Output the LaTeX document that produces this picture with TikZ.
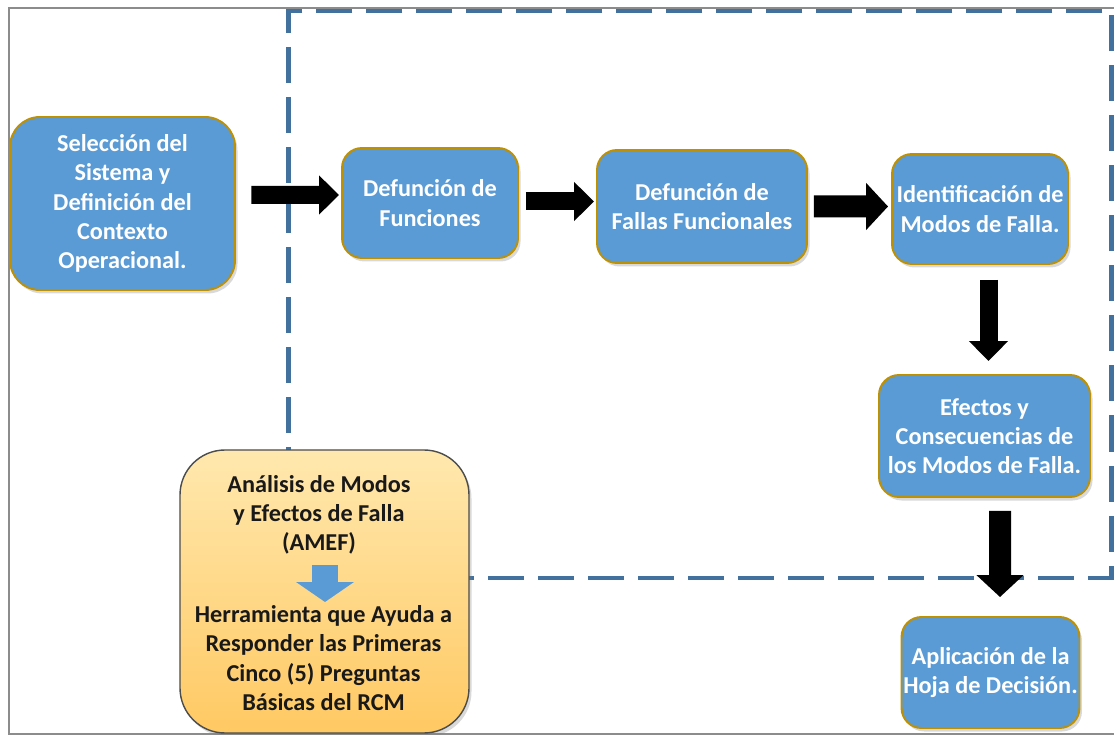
\documentclass[tikz,border=0pt]{standalone}
\usepackage{fontspec}
\setmainfont{Carlito}
\usetikzlibrary{shapes,arrows.meta,positioning,calc,shadows}

\definecolor{cajaazul}{HTML}{5B9BD5}
\definecolor{bordeoro}{HTML}{BF9000}
\definecolor{lineaazul}{HTML}{41719C}
\definecolor{naranjaarriba}{HTML}{FFE8AE}
\definecolor{naranjaabajo}{HTML}{FFC963}
\definecolor{marcogris}{HTML}{8C8C8C}

\tikzset{
  etapa/.style={rectangle, rounded corners=0.4cm, draw=bordeoro, line width=1.1pt,
    fill=cajaazul, text=white, align=center, inner sep=1pt,
    drop shadow={shadow xshift=0.05cm, shadow yshift=-0.07cm, opacity=0.3}},
  zona/.style={draw=lineaazul, line width=2.6pt, dash pattern=on 0.72cm off 0.28cm},
  resumen/.style={rectangle, rounded corners=0.9cm, draw=black!70, line width=0.8pt,
    top color=naranjaarriba, bottom color=naranjaabajo,
    drop shadow={shadow xshift=0.05cm, shadow yshift=-0.07cm, opacity=0.3}},
  texto/.style={align=center, text=black!90, inner sep=0pt},
  flecha/.style={line width=0.36cm, -{Triangle[length=0.4cm, width=0.76cm]}},
  flechag/.style={line width=0.44cm, -{Triangle[length=0.44cm, width=0.92cm]}},
  flechaazul/.style={draw=cajaazul, line width=0.52cm, -{Triangle[length=0.4cm, width=1.14cm]}},
}

\begin{document}
\begin{tikzpicture}[font=\fontsize{13.8pt}{16.6pt}\selectfont\bfseries]
    \useasboundingbox (0,0) rectangle (22.28,-14.7);

    % Marco
    \draw[marcogris, line width=0.6pt] (22.28,-0.16) -| (0.18,-14.68) -- (22.28,-14.68);

    % Zona punteada
    \node[zona, minimum width=16.47cm, minimum height=11.34cm] (zona) at (14.0,-5.89) {};

    % Etapas
    \node[etapa, rounded corners=0.6cm, minimum width=4.5cm, minimum height=3.46cm] (seleccion) at (2.45,-4.07)
        {Selección del\\ Sistema y\\ Definición del\\ Contexto\\ Operacional.};
    \node[etapa, minimum width=3.52cm, minimum height=2.2cm] (funciones) at (8.6,-4.06) {Defunción de\\ Funciones};
    \node[etapa, minimum width=4.2cm, minimum height=2.26cm] (fallas) at (14.04,-4.13) {Defunción de\\ Fallas Funcionales};
    \node[etapa, minimum width=3.52cm, minimum height=2.2cm] (modos) at (19.6,-4.18) {Identificación de\\ Modos de Falla.};
    \node[etapa, minimum width=4.22cm, minimum height=2.44cm] (efectos) at (19.69,-8.72)
        {Efectos y\\ Consecuencias de\\ los Modos de Falla.};
    \node[etapa, minimum width=3.5cm, minimum height=2.22cm] (hoja) at (19.81,-13.45) {Aplicación de la\\ Hoja de Decisión.};

    % AMEF
    \node[resumen, minimum width=5.78cm, minimum height=5.66cm] (amef) at (6.49,-11.83) {};
    \node[texto] (amefA) at (6.38,-10.3) {Análisis de Modos\\ y Efectos de Falla\\ (AMEF)};
    \node[texto] (amefB) at (6.47,-13.16) {Herramienta que Ayuda a\\ Responder las Primeras\\ Cinco (5) Preguntas\\ Básicas del RCM};
    \draw[flechaazul, shorten <=1.0cm, shorten >=1.12cm] ([xshift=0.12cm]amefA.center) -- ([xshift=0.03cm]amefB.center);

    % Flechas
    \draw[flecha, shorten <=0.31cm, shorten >=0.04cm] ([yshift=0.17cm]seleccion.east) -- ([yshift=0.16cm]funciones.west);
    \draw[flecha, shorten <=0.14cm, shorten >=0.04cm] ([yshift=0.03cm]funciones.east) -- ([yshift=0.10cm]fallas.west);
    \draw[flechag, shorten <=0.12cm, shorten >=0.06cm] (fallas.east) -- ([yshift=0.05cm]modos.west);
    \draw[flecha, shorten <=0.3cm, shorten >=0.26cm] ([xshift=0.17cm]modos.south) -- ([xshift=0.08cm]efectos.north);
    \draw[flechag, shorten <=0.26cm, shorten >=0.38cm] ([xshift=0.31cm]efectos.south) -- ([xshift=0.19cm]hoja.north);
\end{tikzpicture}
\end{document}
